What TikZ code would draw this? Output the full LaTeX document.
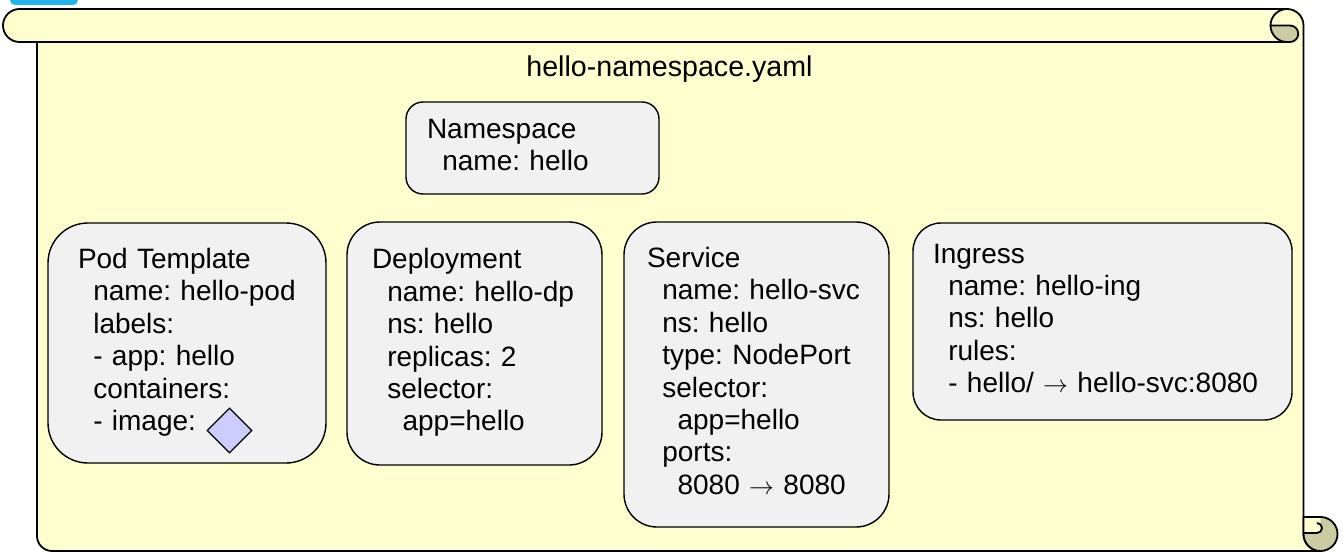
\documentclass[tikz,border=0pt]{standalone}
\usepackage{fontspec}
\setmainfont{Liberation Sans}
\usetikzlibrary{shapes.geometric}
\definecolor{scrollfill}{RGB}{254,254,206}
\definecolor{curlfill}{RGB}{204,204,163}
\definecolor{cardfill}{RGB}{241,241,241}
\definecolor{imgfill}{RGB}{204,204,255}
\definecolor{tabblue}{RGB}{34,181,234}
\newcommand{\yi}{\hspace*{15.3pt}}
\frenchspacing
\exhyphenpenalty=10000
\hyphenpenalty=10000

\begin{document}
\begin{tikzpicture}[x=1pt,y=-1pt,
  scroll/.style={line width=1.8pt,line join=round},
  card/.style={draw,fill=cardfill,line width=1.4pt,align=left,inner ysep=0pt,
    font=\fontsize{28}{32.4}\selectfont,
    execute at begin node=\strut,execute at end node=\strut}]
  \useasboundingbox (0,0) rectangle (1343,553);

  % tab peeking in at the top
  \fill[tabblue,rounded corners=5pt] (10,-10) rectangle (78,5);

  % the scroll
  \filldraw[scroll,fill=scrollfill] (19.5,42) arc[start angle=90,end angle=270,radius=16.5]
    -- (1287,9) arc[start angle=-90,end angle=0,radius=16.5]
    -- (1303.5,534) arc[start angle=180,end angle=90,radius=17]
    -- (52,551) arc[start angle=90,end angle=180,radius=15]
    -- (37,42) -- cycle;
  \fill[curlfill] (1320.5,534) circle[radius=17];
  \fill[scrollfill] (1303.5,517) -- (1320.5,517) -- (1320.5,523) -- (1317,523)
    arc[start angle=-90,end angle=90,radius=5] -- (1303.5,533) -- cycle;
  \draw[scroll] (1303.5,517) -- (1303.5,534) arc[start angle=180,end angle=90,radius=17];
  \draw[scroll] (1303.5,517) -- (1320.5,517) arc[start angle=-90,end angle=90,radius=17];
  \draw[scroll] (1303.5,533) -- (1317,533) arc[start angle=90,end angle=-90,radius=5];
  \filldraw[scroll,fill=curlfill] (1270.5,25.5) -- (1290,25.5)
    arc[start angle=-90,end angle=90,radius=8.25]
    -- (1287,42) arc[start angle=90,end angle=180,radius=16.5] -- cycle;
  \draw[scroll] (1270.5,25.5) arc[start angle=180,end angle=270,radius=16.5];
  \draw[scroll] (19.5,42) -- (1290,42);

  \node[font=\fontsize{28.6}{32.4}\selectfont,anchor=base] (title) at (669.5,77) {hello-namespace.yaml};

  \node[card,minimum width=253pt,minimum height=92pt,text width=211pt,inner xsep=21pt,rounded corners=17pt] (ns) at (532.5,148)
    {Namespace\\\yi name: hello};

  \node[card,minimum width=278pt,minimum height=240pt,text width=218pt,inner xsep=30pt,rounded corners=40pt] (pod) at (187,343)
    {Pod Template\\\yi name: hello-pod\\\yi labels:\\\yi - app: hello\\\yi containers:\\\yi - image:};
  \node[diamond,draw,fill=imgfill,line width=1.3pt,minimum width=45pt,minimum height=45pt,inner sep=0pt] (img) at (229.5,430.5) {};

  \node[card,minimum width=255pt,minimum height=243pt,text width=205pt,inner xsep=25pt,rounded corners=33pt] (dp) at (474.5,343.5)
    {Deployment\\\yi name: hello-dp\\\yi ns: hello\\\yi replicas: 2\\\yi selector:\\\yi\yi app=hello};

  \node[card,minimum width=265pt,minimum height=305pt,text width=219pt,inner xsep=23pt,rounded corners=33pt] (svc) at (756.5,374.5)
    {Service\\\yi name: hello-svc\\\yi ns: hello\\\yi type: NodePort\\\yi selector:\\\yi\yi app=hello\\\yi ports:\\\yi\yi 8080 $\rightarrow$ 8080};

  \node[card,minimum width=379pt,minimum height=197pt,text width=339pt,inner xsep=20pt,rounded corners=28pt] (ing) at (1102.5,321.5)
    {Ingress\\\yi name: hello-ing\\\yi ns: hello\\\yi rules:\\\yi - hello/ $\rightarrow$ hello-svc:8080};
\end{tikzpicture}
\end{document}
